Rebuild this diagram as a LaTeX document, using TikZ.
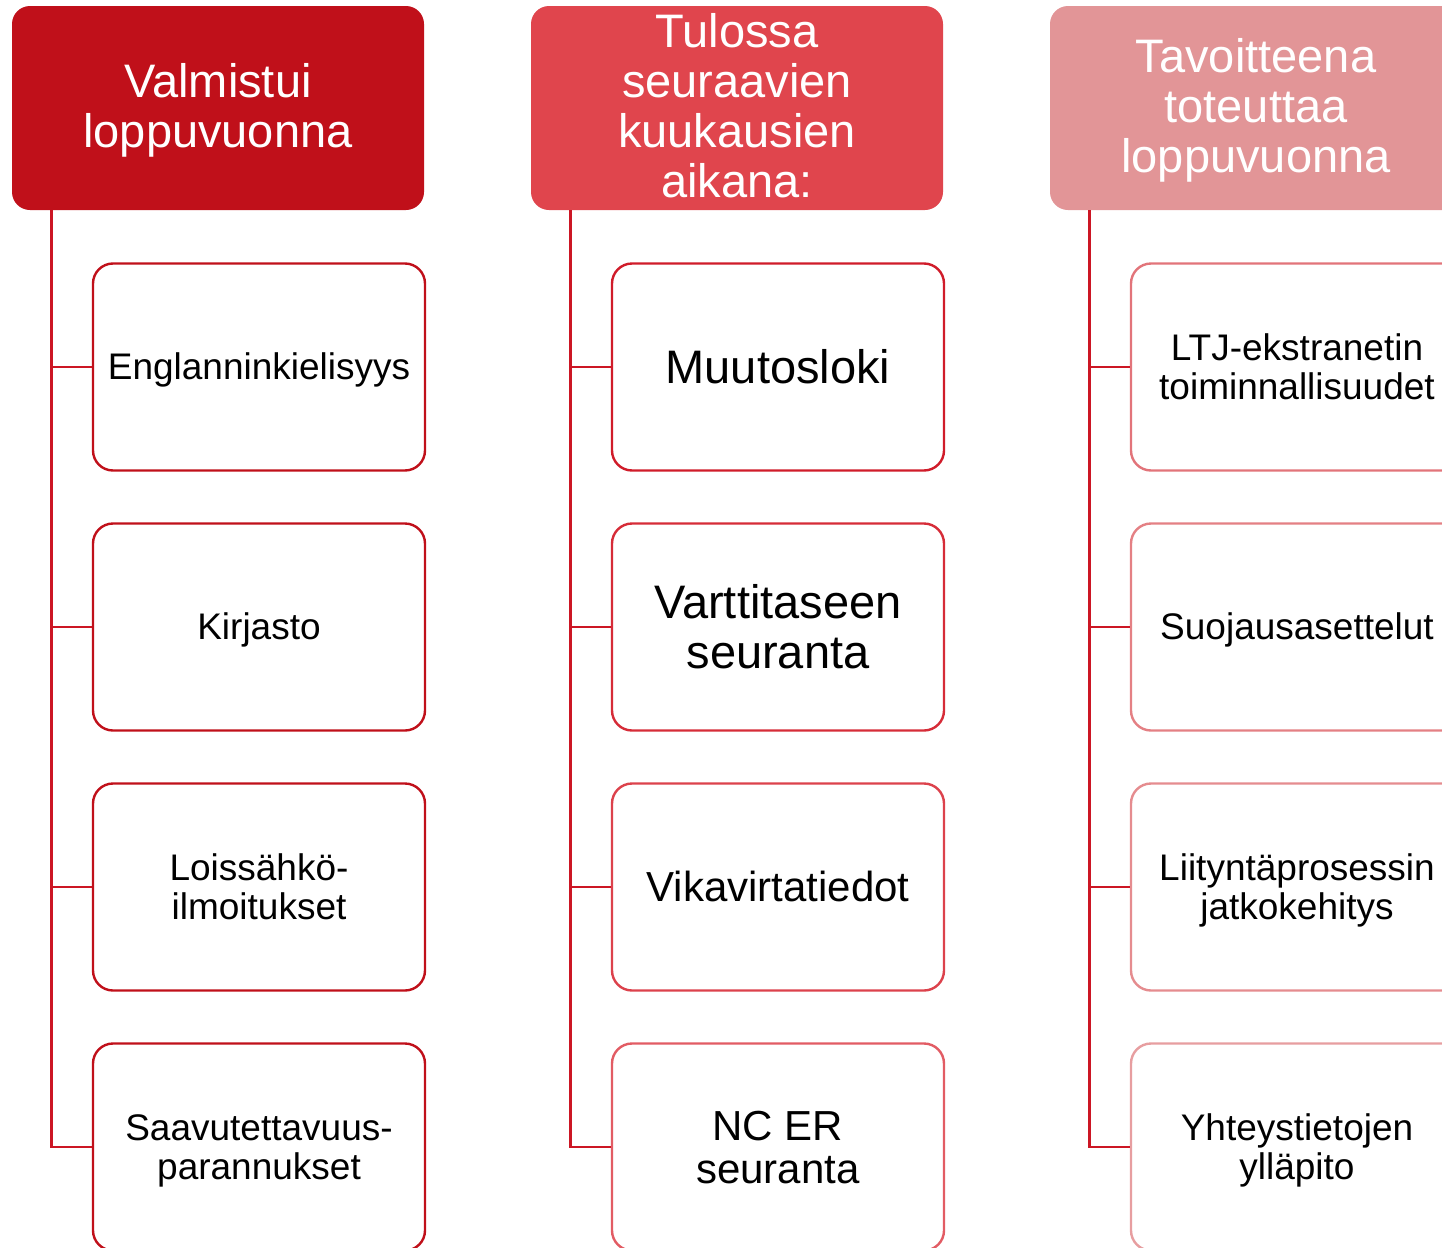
\documentclass[tikz,border=0pt]{standalone}
\usepackage{fontspec}
\setmainfont{Liberation Sans}
\definecolor{valmis}{RGB}{192,16,26}
\definecolor{tulossa}{RGB}{224,69,77}
\definecolor{tavoite}{RGB}{226,149,151}
\definecolor{linja}{RGB}{204,22,36}

\begin{document}
\begin{tikzpicture}[x=0.5pt,y=-0.5pt,
  otsikko/.style={rounded corners=9pt, minimum width=206pt, minimum height=102pt, inner sep=0pt, text=white, align=center, font=\fontsize{23.5}{25}\selectfont, text depth=5pt},
  laatikko/.style={line width=1.2pt, rounded corners=10pt, fill=white, minimum width=166pt, minimum height=103.5pt, inner sep=0pt, align=center, font=\fontsize{18.5}{19.5}\selectfont, text height=16.7pt, text depth=3.9pt},
  pari/.style={text height=36.2pt},
  iso/.style={font=\fontsize{23.5}{25}\selectfont, text height=21.3pt, text depth=5pt},
  keski/.style={font=\fontsize{21}{21.5}\selectfont, text height=19pt, text depth=4.45pt},
  haara/.style={draw=linja, line width=1.25pt}]
  \clip (0,0) rectangle (1442,1248);
  \node (hA) [otsikko, fill=valmis, text height=44.3pt] at (218,108) {Valmistui\\loppuvuonna};
  \node (hB) [otsikko, fill=tulossa, text height=94.8pt] at (737,108) {Tulossa\\seuraavien\\kuukausien\\aikana:};
  \node (hC) [otsikko, fill=tavoite, text height=69.3pt] at (1256,108) {Tavoitteena\\toteuttaa\\loppuvuonna};
  \node (a1) [laatikko, draw=valmis] at (259,367) {Englanninkielisyys};
  \node (a2) [laatikko, draw=valmis] at (259,627) {Kirjasto};
  \node (a3) [laatikko, pari, draw=valmis] at (259,887) {Loissähkö-\\ilmoitukset};
  \node (a4) [laatikko, pari, draw=valmis] at (259,1147) {Saavutettavuus-\\parannukset};
  \node (b1) [laatikko, iso, draw={rgb,255:red,208;green,28;blue,42}] at (778,367) {Muutosloki};
  \node (b2) [laatikko, iso, text height=46.3pt, draw={rgb,255:red,214;green,44;blue,56}] at (778,627) {Varttitaseen\\seuranta};
  \node (b3) [laatikko, keski, draw={rgb,255:red,220;green,66;blue,76}] at (778,887) {Vikavirtatiedot};
  \node (b4) [laatikko, keski, text height=40.5pt, draw={rgb,255:red,226;green,92;blue,100}] at (778,1147) {NC ER\\seuranta};
  \node (c1) [laatikko, pari, draw={rgb,255:red,226;green,116;blue,122}] at (1297,367) {LTJ-ekstranetin\\toiminnallisuudet};
  \node (c2) [laatikko, draw={rgb,255:red,228;green,128;blue,132}] at (1297,627) {Suojausasettelut};
  \node (c3) [laatikko, pari, draw={rgb,255:red,229;green,140;blue,143}] at (1297,887) {Liityntäprosessin\\jatkokehitys};
  \node (c4) [laatikko, pari, draw={rgb,255:red,231;green,158;blue,160}] at (1297,1147) {Yhteystietojen\\ylläpito};
  \draw [haara] (hA.south west) ++(40,0) coordinate (a top) |- (a1.west) (a top) |- (a2.west) (a top) |- (a3.west) (a top) |- (a4.west);
  \draw [haara] (hB.south west) ++(40,0) coordinate (b top) |- (b1.west) (b top) |- (b2.west) (b top) |- (b3.west) (b top) |- (b4.west);
  \draw [haara] (hC.south west) ++(40,0) coordinate (c top) |- (c1.west) (c top) |- (c2.west) (c top) |- (c3.west) (c top) |- (c4.west);
\end{tikzpicture}
\end{document}
